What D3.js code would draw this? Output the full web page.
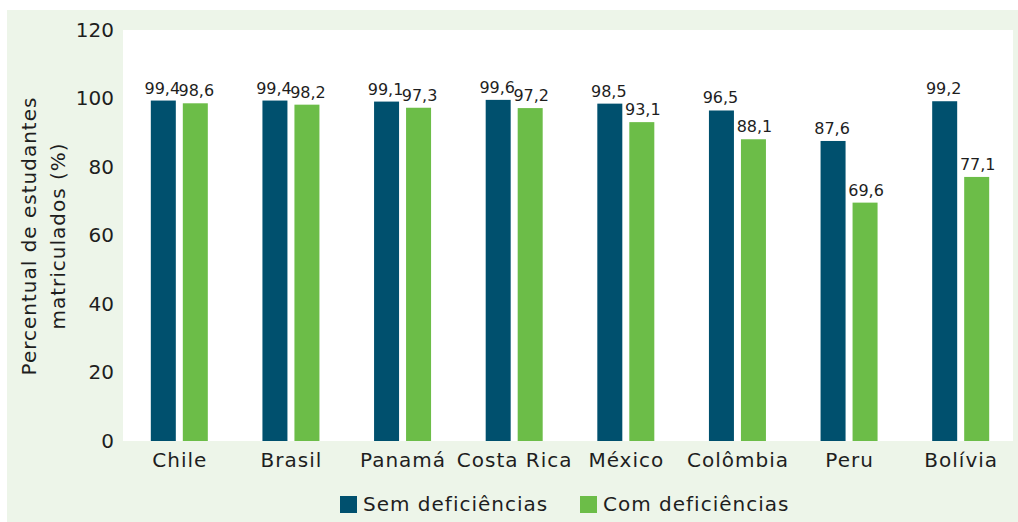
<!DOCTYPE html>
<html>
<head>
<meta charset="utf-8">
<script src="https://cdn.jsdelivr.net/npm/d3@7"></script>
<style>
  body { margin: 0; background: #fff; }
  svg text { font-family: "DejaVu Sans", sans-serif; fill: #1e1e1e; }
</style>
</head>
<body>
<svg width="1018" height="522"></svg>
<script>
var countries = ["Chile", "Brasil", "Panamá", "Costa Rica", "México", "Colômbia", "Peru", "Bolívia"];
var semDef = [99.4, 99.4, 99.1, 99.6, 98.5, 96.5, 87.6, 99.2];
var comDef = [98.6, 98.2, 97.3, 97.2, 93.1, 88.1, 69.6, 77.1];
var yTicks = [0, 20, 40, 60, 80, 100, 120];
var seriesNames = ["Sem deficiências", "Com deficiências"];
var colors = ["#00506e", "#6cbd48"];

var svg = d3.select("svg");

// fundo verde e area branca
svg.append("rect").attr("x", 7).attr("y", 10).attr("width", 1011).attr("height", 512).attr("fill", "#edf5e9");
svg.append("rect").attr("x", 123).attr("y", 30).attr("width", 890).attr("height", 411).attr("fill", "#fff");

var x = d3.scaleBand().domain(countries).range([123.5, 1016.5]);
var y = d3.scaleLinear().domain([0, 120]).range([441, 30]);

var barW = 25, gap = 7;

var data = countries.map(function(c, i) {
  return {country: c, values: [semDef[i], comDef[i]]};
});

var groups = svg.selectAll(".grp")
  .data(data)
  .enter().append("g")
    .attr("class", "grp")
    .attr("transform", function(d) { return "translate(" + (x(d.country) + x.bandwidth() / 2) + ",0)"; });

groups.selectAll("rect")
  .data(function(d) { return d.values; })
  .enter().append("rect")
    .attr("x", function(d, i) { return i == 0 ? -gap / 2 - barW : gap / 2; })
    .attr("y", function(d) { return y(d); })
    .attr("width", barW)
    .attr("height", function(d) { return y(0) - y(d); })
    .attr("fill", function(d, i) { return colors[i]; });

groups.selectAll(".val")
  .data(function(d) { return d.values; })
  .enter().append("text")
    .attr("class", "val")
    .attr("x", function(d, i) { return i == 0 ? -gap / 2 - barW / 2 - 1 : gap / 2 + barW / 2 + 1; })
    .attr("y", function(d) { return y(d) - 7; })
    .attr("text-anchor", "middle")
    .style("font-size", "16px")
    .text(function(d) { return d3.format(".1f")(d).replace(".", ","); });

// eixo y
var yAxis = d3.axisLeft(y).tickValues(yTicks).tickSize(0).tickPadding(9);
svg.append("g")
    .attr("transform", "translate(123,0)")
    .call(yAxis)
    .call(function(g) { g.select(".domain").remove(); })
    .selectAll("text")
      .style("font-size", "20px")
      .attr("fill", "#1e1e1e");

// eixo x
var xAxis = d3.axisBottom(x).tickSize(0).tickPadding(12);
svg.append("g")
    .attr("transform", "translate(0,441)")
    .call(xAxis)
    .call(function(g) { g.select(".domain").remove(); })
    .selectAll("text")
      .style("font-size", "20px")
      .style("letter-spacing", "1px")
      .attr("dx", "0.5px")
      .attr("fill", "#1e1e1e");

// titulo y
var title = svg.append("text")
    .attr("transform", "translate(36,236) rotate(-90)")
    .attr("text-anchor", "middle")
    .style("font-size", "20px")
    .style("letter-spacing", "1px");
title.append("tspan").attr("x", 0).attr("dy", 0).text("Percentual de estudantes");
title.append("tspan").attr("x", 0).attr("dy", 29).text("matriculados (%)");

// legenda
var legX = [340, 580];
var leg = svg.selectAll(".leg")
  .data(seriesNames)
  .enter().append("g")
    .attr("class", "leg")
    .attr("transform", function(d, i) { return "translate(" + legX[i] + ",496)"; });
leg.append("rect").attr("width", 17).attr("height", 17).attr("fill", function(d, i) { return colors[i]; });
leg.append("text").attr("x", 23).attr("y", 15).style("font-size", "20px").style("letter-spacing", "1px").text(function(d) { return d; });
</script>
</body>
</html>
